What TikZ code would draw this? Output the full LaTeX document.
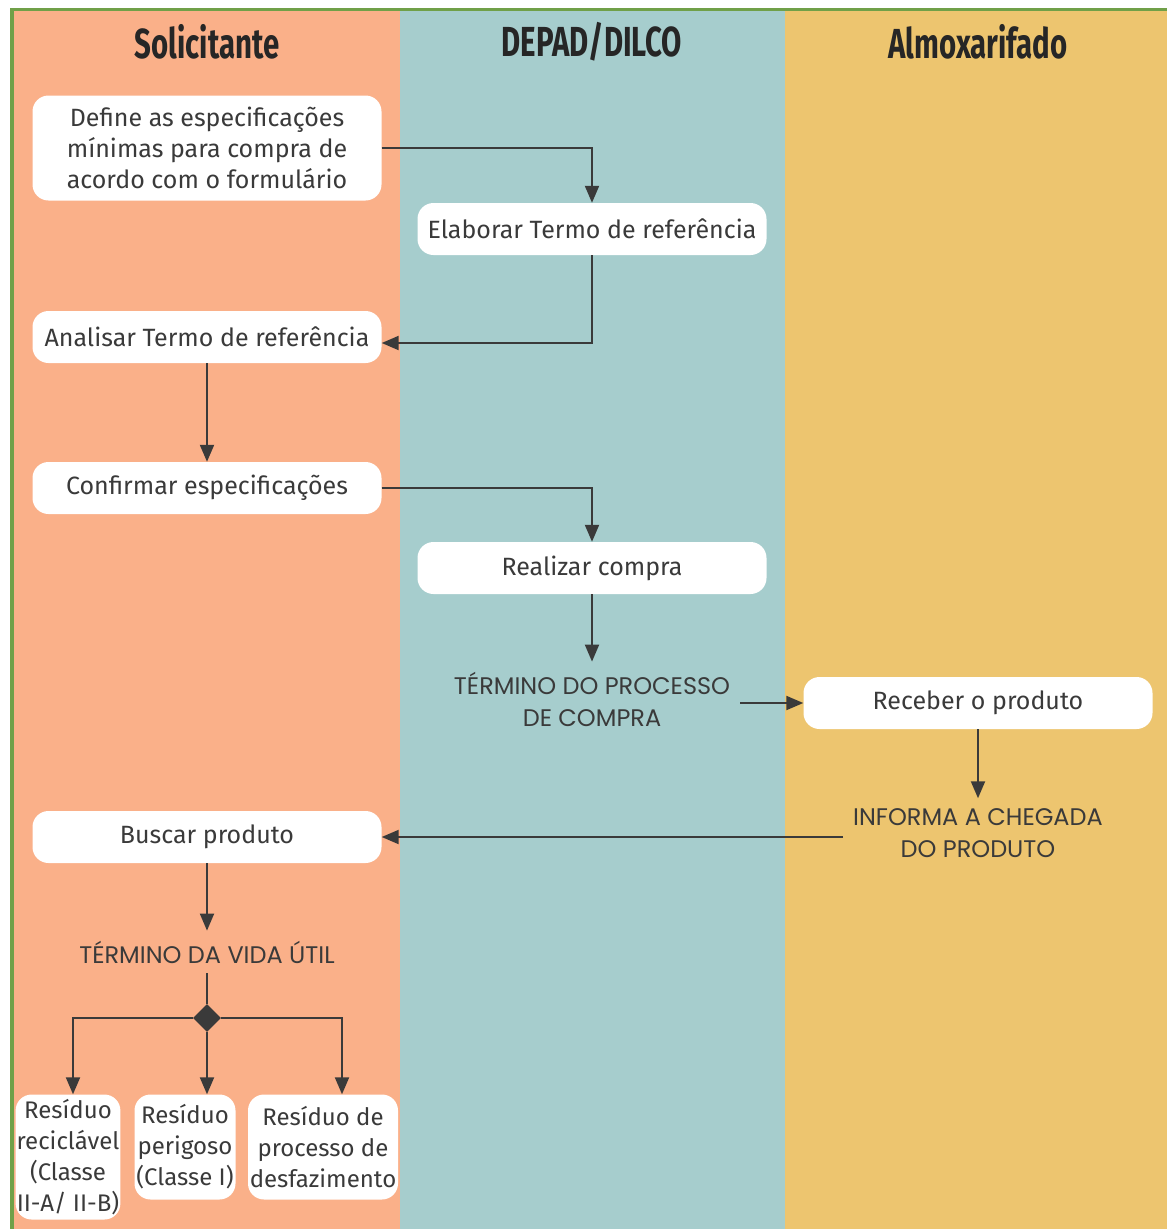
\documentclass[tikz,border=0pt]{standalone}
\usepackage{fontspec}
\setmainfont{Fira Sans}
\newfontfamily\capsfont{Poppins}
\newfontfamily\headfont[FakeStretch=0.70]{Fira Sans}
\usetikzlibrary{arrows.meta,shapes.geometric}
\definecolor{laneA}{RGB}{250,176,137}
\definecolor{laneB}{RGB}{166,205,205}
\definecolor{laneC}{RGB}{237,197,111}
\definecolor{frame}{RGB}{112,160,72}
\definecolor{ink}{RGB}{58,58,58}

\begin{document}
\begin{tikzpicture}[x=1pt, y=-1pt, every node/.style={align=center, text=ink},
    box/.style={fill=white, rounded corners=16pt, inner sep=2pt, minimum width=349pt, minimum height=52pt, font=\fontsize{25}{31}\selectfont},
    small box/.style={fill=white, rounded corners=16pt, inner sep=1pt, font=\fontsize{24}{31}\selectfont},
    caps/.style={inner sep=10pt, font=\capsfont\fontsize{24}{32}\selectfont},
    head/.style={font=\headfont\bfseries\fontsize{42}{44}\selectfont, text=black!85},
    flow/.style={draw=ink, line width=2pt, -{Triangle[length=17pt, width=14pt]}}]
                        \useasboundingbox (0, 0) rectangle (1167, 1229);
                        \fill[white] (0, 0) rectangle (1167, 1229);
                        \fill[laneA] (12, 9) rectangle (400, 1229);
                        \fill[laneB] (400, 9) rectangle (785, 1229);
                        \fill[laneC] (785, 9) rectangle (1167, 1229);
                        \draw[frame, line width=3pt] (10, 9) -- (1167, 9);
                        \draw[frame, line width=4pt] (12, 8) -- (12, 1229);
                        \node[head] (H1) at (207, 42) {Solicitante};
                        \node[head] (H2) at (592, 42) {DEPAD/DILCO};
                        \node[head] (H3) at (978, 42) {Almoxarifado};
                        \node[box, minimum height=105pt] (Def) at (207, 148) {Define as especificações\\mínimas para compra de\\acordo com o formulário};
                        \node[box] (Elab) at (592, 229) {Elaborar Termo de referência};
                        \node[box] (Anal) at (207, 337) {Analisar Termo de referência};
                        \node[box] (Conf) at (207, 488) {Confirmar especificações};
                        \node[box] (Real) at (592, 568) {Realizar compra};
                        \node[caps] (TermC) at (592, 699) {TÉRMINO DO PROCESSO\\DE COMPRA};
                        \node[box] (Rec) at (978, 703) {Receber o produto};
                        \node[caps] (Info) at (978, 833) {INFORMA A CHEGADA\\DO PRODUTO};
                        \node[box] (Busc) at (207, 837) {Buscar produto};
                        \node[caps] (TermV) at (207, 952) {TÉRMINO DA VIDA ÚTIL};
                        \node[diamond, fill=ink, inner sep=0pt, minimum size=28pt] (Dia) at (207, 1018) {};
                        \node[small box, minimum width=103pt, minimum height=125pt] (R1) at (68, 1157) {Resíduo\\reciclável\\(Classe\\II-A/ II-B)};
                        \node[small box, minimum width=101pt, minimum height=105pt] (R2) at (185, 1147) {Resíduo\\perigoso\\(Classe I)};
                        \node[small box, minimum width=150pt, minimum height=105pt] (R3) at (323, 1147) {Resíduo de\\processo de\\desfazimento};
                        \draw[flow] (Def.east) -| (Elab.north);
                        \draw[flow] (Elab.south) |- ([yshift=-6pt]Anal.east);
                        \draw[flow] (Anal.south) -- (Conf.north);
                        \draw[flow] (Conf.east) -| (Real.north);
                        \draw[flow] (Real.south) -- (TermC.north);
                        \draw[flow] (Rec.west -| TermC.east) -- (Rec.west);
                        \draw[flow] (Rec.south) -- (Info.north);
                        \draw[flow] (Info.west |- Busc.east) -- (Busc.east);
                        \draw[flow] (Busc.south) -- (TermV.north);
                        \draw[draw=ink, line width=2pt] (TermV.south) -- (Dia.north);
                        \draw[flow] (Dia.west) -| (R1.north -| 73, 0);
                        \draw[flow] (Dia.south) -- (R2.north -| Dia.south);
                        \draw[flow] (Dia.east) -| (R3.north -| 342, 0);
                    \end{tikzpicture}
\end{document}
